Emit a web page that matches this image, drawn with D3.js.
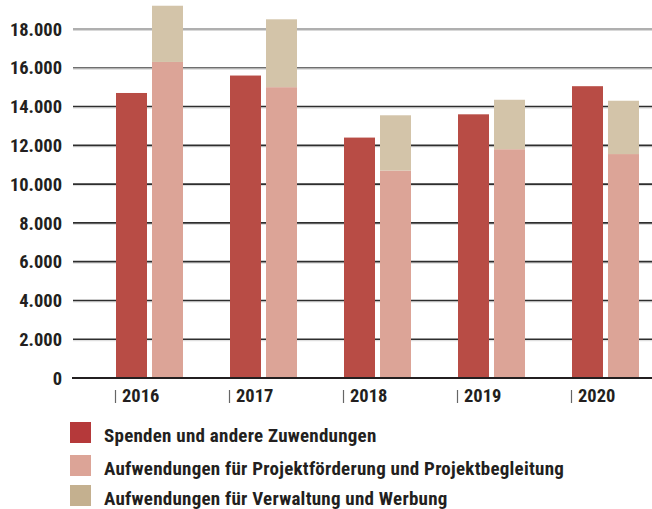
<!DOCTYPE html>
<html><head><meta charset="utf-8">
<script src="https://cdn.jsdelivr.net/npm/d3@7"></script>
<style>
body{margin:0;background:#fff;}
text{font-family:"Liberation Sans Narrow","Roboto Condensed","Liberation Sans",sans-serif;fill:#231f20;}
</style></head>
<body><svg id="c" width="652" height="509"></svg>
<script>
const years = ["2016","2017","2018","2019","2020"];
const spenden = [14700, 15600, 12400, 13600, 15050];
const projekt = [16300, 15000, 10700, 11800, 11550];
const verwaltung = [2900, 3500, 2850, 2550, 2750];
const yTicks = [0,2000,4000,6000,8000,10000,12000,14000,16000,18000];
const legendLabels = ["Spenden und andere Zuwendungen","Aufwendungen für Projektförderung und Projektbegleitung","Aufwendungen für Verwaltung und Werbung"];
const barColors = ["#b84c45","#dca497","#d3c4a9"];
const legendColors = ["#b5393a","#dca497","#c4b08f"];

const svg = d3.select("#c");
const y = d3.scaleLinear().domain([0,18000]).range([378,29]);
const x = d3.scaleBand().domain(years).range([116,116+114*5]).paddingInner(0).paddingOuter(0);
const xs = d3.scaleBand().domain(["a","b"]).range([0,67]).paddingInner(5/36).paddingOuter(0);
const fmt = v => v===0 ? "0" : d3.format(",")(v).replace(/,/g,".");

// gridlines
const gridColor = v => v===18000 ? "#959595" : v===16000 ? "#6f6f6f" : "#2e2e2e";
const g = svg.append("g");
yTicks.filter(v=>v>0).forEach(v=>{
  g.append("line").attr("x1",73).attr("x2",652).attr("y1",y(v)+1.5).attr("y2",y(v)+1.5).attr("stroke","#d8d8d8").attr("stroke-width",1);
  g.append("line").attr("x1",73).attr("x2",652).attr("y1",y(v)).attr("y2",y(v)).attr("stroke",gridColor(v)).attr("stroke-width",1.6);
});
// y labels
svg.append("g").selectAll("text").data(yTicks).join("text")
  .attr("x",62).attr("y",d=>y(d)).attr("dy","0.36em").attr("text-anchor","end")
  .attr("font-size",18.5).attr("font-weight","bold").text(fmt);

// bars
const bars = svg.append("g");
years.forEach((yr,i)=>{
  bars.append("rect").attr("x",x(yr)+xs("a")).attr("width",xs.bandwidth())
    .attr("y",y(spenden[i])).attr("height",y(0)-y(spenden[i])).attr("fill",barColors[0]);
  bars.append("rect").attr("x",x(yr)+xs("b")).attr("width",xs.bandwidth())
    .attr("y",y(projekt[i])).attr("height",y(0)-y(projekt[i])).attr("fill",barColors[1]);
  bars.append("rect").attr("x",x(yr)+xs("b")).attr("width",xs.bandwidth())
    .attr("y",y(projekt[i]+verwaltung[i])).attr("height",y(projekt[i])-y(projekt[i]+verwaltung[i])).attr("fill",barColors[2]);
});
// zero line
svg.append("line").attr("x1",72).attr("x2",652).attr("y1",y(0)).attr("y2",y(0)).attr("stroke","#231f20").attr("stroke-width",2);

// x labels
const xl = svg.append("g");
years.forEach(yr=>{
  xl.append("line").attr("x1",x(yr)-0.5).attr("x2",x(yr)-0.5).attr("y1",390).attr("y2",403).attr("stroke","#666").attr("stroke-width",1.2);
  xl.append("text").attr("x",x(yr)+6).attr("y",402).attr("font-size",18.5).attr("font-weight","bold").text(yr);
});

// legend
const lg = svg.append("g");
const ly = [422,455,485];
legendLabels.forEach((l,i)=>{
  lg.append("rect").attr("x",70).attr("y",ly[i]).attr("width",21).attr("height",21).attr("fill",legendColors[i]);
  lg.append("text").attr("x",104).attr("y",ly[i]+19.5).attr("font-size",19).attr("letter-spacing",0.25).attr("font-weight","bold").text(l);
});
</script></body></html>
